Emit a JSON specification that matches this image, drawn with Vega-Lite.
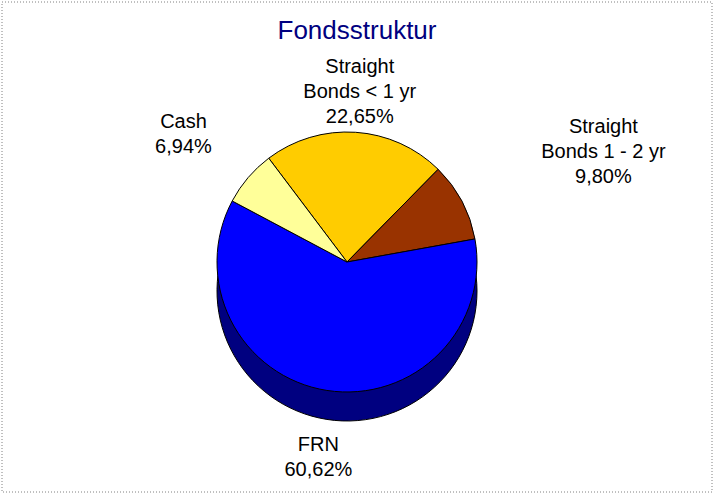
{
  "$schema": "https://vega.github.io/schema/vega-lite/v6.json",
  "width": 710,
  "height": 490,
  "autosize": "none",
  "padding": 2,
  "background": "white",
  "config": {
    "view": {"stroke": null},
    "font": "Liberation Sans"
  },
  "title": {
    "text": "Fondsstruktur",
    "font": "Liberation Sans",
    "fontSize": 26,
    "fontWeight": "normal",
    "color": "#000080",
    "anchor": "middle",
    "frame": "group",
    "offset": -42
  },
  "data": {
    "values": [
      {"name": "Straight Bonds < 1 yr", "label": "Straight\nBonds < 1 yr\n22,65%", "value": 22.65, "ord": 1},
      {"name": "Straight Bonds 1 - 2 yr", "label": "Straight\nBonds 1 - 2 yr\n9,80%", "value": 9.80, "ord": 2},
      {"name": "FRN", "label": "FRN\n60,62%", "value": 60.62, "ord": 3},
      {"name": "Cash", "label": "Cash\n6,94%", "value": 6.94, "ord": 4}
    ]
  },
  "layer": [
    {
      "data": {"values": [{"frame": "border"}]},
      "mark": {"type": "rect", "fill": null, "stroke": "#808080", "strokeDash": [1, 2], "strokeWidth": 1},
      "encoding": {}
    },
    {
      "mark": {"type": "arc", "outerRadius": 130, "xOffset": -10, "yOffset": 44, "stroke": "black", "strokeWidth": 1},
      "encoding": {
        "theta": {"field": "value", "type": "quantitative", "stack": true, "scale": {"range": [-0.646, 5.637]}},
        "order": {"field": "ord", "type": "quantitative"},
        "color": {
          "field": "name", "type": "nominal", "legend": null,
          "scale": {"domain": ["Straight Bonds < 1 yr", "Straight Bonds 1 - 2 yr", "FRN", "Cash"], "range": ["#806600", "#4d1a00", "#000080", "#80804c"]}
        }
      }
    },
    {
      "mark": {"type": "arc", "outerRadius": 130, "xOffset": -10, "yOffset": 15, "stroke": "black", "strokeWidth": 1},
      "encoding": {
        "theta": {"field": "value", "type": "quantitative", "stack": true, "scale": {"range": [-0.646, 5.637]}},
        "order": {"field": "ord", "type": "quantitative"},
        "fill": {
          "field": "name", "type": "nominal", "legend": null,
          "scale": {"domain": ["Straight Bonds < 1 yr", "Straight Bonds 1 - 2 yr", "FRN", "Cash"], "range": ["#ffcc00", "#993300", "#0000ff", "#ffff99"]}
        }
      }
    },
    {
      "mark": {"type": "text", "clip": true, "radius": 195, "xOffset": -10, "yOffset": 15, "fontSize": 20, "lineHeight": 25, "lineBreak": "\n", "align": "center", "baseline": "middle", "color": "black", "font": "Liberation Sans"},
      "encoding": {
        "theta": {"field": "value", "type": "quantitative", "stack": true, "scale": {"range": [-0.646, 5.637]}},
        "order": {"field": "ord", "type": "quantitative"},
        "text": {"condition": {"test": "datum.ord === 1", "field": "label"}, "value": ""}
      }
    },
    {
      "mark": {"type": "text", "clip": true, "radius": 290, "xOffset": -10, "yOffset": 15, "fontSize": 20, "lineHeight": 25, "lineBreak": "\n", "align": "center", "baseline": "middle", "color": "black", "font": "Liberation Sans"},
      "encoding": {
        "theta": {"field": "value", "type": "quantitative", "stack": true, "scale": {"range": [-0.646, 5.637]}},
        "order": {"field": "ord", "type": "quantitative"},
        "text": {"condition": {"test": "datum.ord === 2", "field": "label"}, "value": ""}
      }
    },
    {
      "mark": {"type": "text", "clip": true, "radius": 185, "xOffset": -10, "yOffset": 15, "fontSize": 20, "lineHeight": 25, "lineBreak": "\n", "align": "center", "baseline": "middle", "color": "black", "font": "Liberation Sans"},
      "encoding": {
        "theta": {"field": "value", "type": "quantitative", "stack": true, "scale": {"range": [-0.646, 5.637]}},
        "order": {"field": "ord", "type": "quantitative"},
        "text": {"condition": {"test": "datum.ord === 3", "field": "label"}, "value": ""}
      }
    },
    {
      "mark": {"type": "text", "clip": true, "radius": 215, "xOffset": -10, "yOffset": 15, "fontSize": 20, "lineHeight": 25, "lineBreak": "\n", "align": "center", "baseline": "middle", "color": "black", "font": "Liberation Sans"},
      "encoding": {
        "theta": {"field": "value", "type": "quantitative", "stack": true, "scale": {"range": [-0.646, 5.637]}},
        "order": {"field": "ord", "type": "quantitative"},
        "text": {"condition": {"test": "datum.ord === 4", "field": "label"}, "value": ""}
      }
    }
  ],
  "resolve": {"scale": {"color": "independent", "fill": "independent"}}
}
